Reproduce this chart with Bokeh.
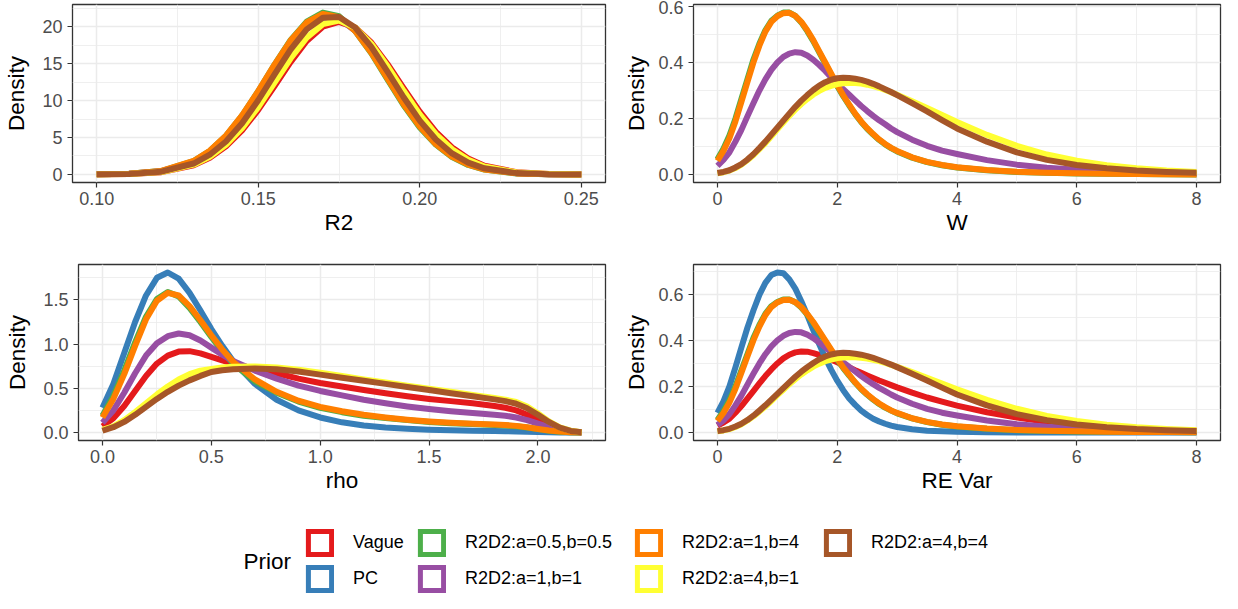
from bokeh.plotting import figure
from bokeh.layouts import column, row
from bokeh.models import FixedTicker, PrintfTickFormatter, Legend, LegendItem, Label, Range1d
from bokeh.embed import file_html
from bokeh.resources import INLINE

FONT = "Liberation Sans"
NAN = float("nan")

priors = ["Vague", "PC", "R2D2:a=0.5,b=0.5", "R2D2:a=1,b=1",
          "R2D2:a=1,b=4", "R2D2:a=4,b=1", "R2D2:a=4,b=4"]
colors = ["#E41A1C", "#377EB8", "#4DAF4A", "#984EA3",
          "#FF7F00", "#FFFF33", "#A65628"]

# ---------------- R2 panel ----------------
r2_x = [0.100, 0.110, 0.120, 0.130, 0.135, 0.140, 0.145, 0.150, 0.155, 0.160,
        0.165, 0.170, 0.175, 0.180, 0.185, 0.190, 0.195, 0.200, 0.205, 0.210,
        0.215, 0.220, 0.230, 0.240, 0.250]
r2_vague = [0.008, 0.06, 0.31, 1.25, 2.25, 3.80, 5.97, 8.75, 11.95, 15.23,
            18.10, 20.04, 20.70, 19.93, 17.89, 14.98, 11.70, 8.51, 5.77, 3.66,
            2.15, 1.18, 0.29, 0.05, 0.007]
r2_a05b05 = [0.012, 0.09, 0.46, 1.80, 3.18, 5.22, 7.96, 11.28, 14.86, 18.20,
             20.72, 21.95, 21.45, 19.45, 16.45, 12.90, 9.40, 6.38, 4.03, 2.36,
             1.28, 0.65, 0.13, 0.02, 0.002]
r2_a1b1 = [0.012, 0.08, 0.43, 1.67, 2.96, 4.87, 7.46, 10.63, 14.09, 17.38,
           19.94, 21.28, 21.12, 19.51, 16.76, 13.40, 9.96, 6.90, 4.43, 2.65,
           1.48, 0.77, 0.17, 0.03, 0.003]
r2_a1b4 = [0.013, 0.09, 0.47, 1.83, 3.21, 5.26, 8.00, 11.31, 14.86, 18.15,
           20.61, 21.76, 21.34, 19.47, 16.51, 13.01, 9.53, 6.49, 4.11, 2.42,
           1.32, 0.67, 0.14, 0.02, 0.002]
r2_a4b1 = [0.009, 0.06, 0.33, 1.32, 2.38, 4.00, 6.26, 9.13, 12.41, 15.72,
           18.54, 20.39, 20.88, 19.93, 17.72, 14.69, 11.34, 8.15, 5.46, 3.41,
           1.99, 1.07, 0.26, 0.05, 0.006]
r2_a4b4 = [0.009, 0.07, 0.37, 1.48, 2.67, 4.47, 6.95, 10.06, 13.53, 16.93,
           19.67, 21.25, 21.35, 19.93, 17.30, 13.95, 10.47, 7.30, 4.73, 2.85,
           1.59, 0.83, 0.18, 0.03, 0.003]

# ---------------- W and RE Var panels ----------------
w_x = [0.0, 0.1, 0.2, 0.3, 0.4, 0.5, 0.6, 0.7, 0.8, 0.9,
       1.0, 1.1, 1.2, 1.3, 1.4, 1.5, 1.6, 1.7, 1.8, 1.9,
       2.0, 2.1, 2.2, 2.3, 2.4, 2.5, 2.6, 2.7, 2.8, 2.9, 3.0,
       3.25, 3.5, 3.75, 4.0, 4.5, 5.0, 5.5, 6.0, 6.5, 7.0, 7.5, 8.0]
w_a05b05 = [0.055, 0.093, 0.14, 0.2, 0.27, 0.34, 0.41, 0.467, 0.515, 0.549,
            0.567, 0.578, 0.578, 0.566, 0.543, 0.512, 0.476, 0.436, 0.396, 0.356,
            0.316, 0.28, 0.247, 0.216, 0.188, 0.164, 0.143, 0.124, 0.108, 0.095, 0.083,
            0.061, 0.045, 0.034, 0.026, 0.016, 0.010, 0.007, 0.0048, 0.0034, 0.0024,
            0.0017, 0.0012]
w_a1b1 = [0.032, 0.053, 0.08, 0.118, 0.16, 0.208, 0.255, 0.30, 0.34, 0.374,
          0.40, 0.42, 0.432, 0.437, 0.435, 0.425, 0.41, 0.391, 0.37, 0.347,
          0.325, 0.305, 0.285, 0.265, 0.245, 0.227, 0.21, 0.194, 0.18, 0.165, 0.152,
          0.125, 0.103, 0.086, 0.074, 0.052, 0.036, 0.025, 0.018, 0.013, 0.009,
          0.0065, 0.0048]
w_a1b4 = [0.05, 0.085, 0.13, 0.19, 0.26, 0.33, 0.40, 0.46, 0.51, 0.545,
          0.565, 0.576, 0.577, 0.566, 0.545, 0.515, 0.48, 0.44, 0.40, 0.36,
          0.32, 0.283, 0.25, 0.218, 0.19, 0.166, 0.145, 0.126, 0.11, 0.096, 0.085,
          0.062, 0.046, 0.035, 0.027, 0.017, 0.011, 0.0075, 0.005, 0.0035, 0.0025,
          0.0018, 0.0013]
w_a4b1 = [0.005, 0.009, 0.015, 0.024, 0.036, 0.052, 0.07, 0.091, 0.113, 0.137,
          0.162, 0.186, 0.21, 0.232, 0.252, 0.27, 0.286, 0.299, 0.31, 0.317,
          0.323, 0.326, 0.327, 0.327, 0.325, 0.321, 0.316, 0.31, 0.302, 0.294, 0.285,
          0.262, 0.238, 0.213, 0.188, 0.142, 0.103, 0.072, 0.05, 0.034, 0.023,
          0.015, 0.01]
w_a4b4 = [0.006, 0.01, 0.016, 0.026, 0.038, 0.054, 0.073, 0.095, 0.118, 0.143,
          0.168, 0.193, 0.218, 0.242, 0.264, 0.284, 0.302, 0.318, 0.33, 0.339,
          0.344, 0.346, 0.345, 0.342, 0.338, 0.332, 0.324, 0.315, 0.305, 0.295, 0.284,
          0.255, 0.226, 0.195, 0.165, 0.118, 0.08, 0.053, 0.035, 0.023, 0.015,
          0.01, 0.007]
re_vague = [0.03, 0.043, 0.06, 0.086, 0.115, 0.147, 0.18, 0.213, 0.245, 0.274,
            0.30, 0.322, 0.338, 0.348, 0.352, 0.351, 0.345, 0.337, 0.327, 0.316,
            0.305, 0.293, 0.282, 0.27, 0.259, 0.248, 0.237, 0.226, 0.216, 0.206, 0.196,
            0.173, 0.152, 0.134, 0.117, 0.088, 0.065, 0.047, 0.034, 0.024, 0.017,
            0.012, 0.008]
re_pc = [0.085, 0.135, 0.20, 0.283, 0.37, 0.455, 0.53, 0.598, 0.65, 0.684,
         0.695, 0.692, 0.665, 0.625, 0.57, 0.51, 0.445, 0.383, 0.325, 0.272,
         0.225, 0.184, 0.148, 0.12, 0.095, 0.076, 0.06, 0.048, 0.038, 0.03, 0.024,
         0.014, 0.008, 0.005, 0.003, 0.0012, 0.0005, 0.0002, 0.0001, 0.0, 0.0,
         0.0, 0.0]

# ---------------- rho panel ----------------
rho_x = [0, 0.05, 0.1, 0.15, 0.2, 0.25, 0.3, 0.35, 0.4, 0.45, 0.5, 0.55, 0.6,
         0.7, 0.8, 0.9, 1.0, 1.1, 1.2, 1.3, 1.4, 1.5, 1.6, 1.7, 1.8, 1.85, 1.9,
         1.95, 2.0, 2.05, 2.1, 2.15, 2.2]
rho_vague = [0.07, 0.16, 0.30, 0.47, 0.64, 0.78, 0.87, 0.915, 0.92, 0.895,
             0.855, 0.815, 0.78, 0.72, 0.67, 0.61, 0.56, 0.52, 0.48, 0.445,
             0.41, 0.38, 0.355, 0.33, 0.30, 0.28, 0.25, 0.20, 0.14, 0.08,
             0.035, 0.01, 0.002]
rho_pc = [0.28, 0.55, 0.90, 1.25, 1.55, 1.75, 1.81, 1.74, 1.58, 1.38,
          1.17, 0.98, 0.81, 0.55, 0.37, 0.25, 0.17, 0.115, 0.08, 0.057,
          0.042, 0.032, 0.025, 0.02, 0.016, 0.014, 0.012, 0.009, 0.006, 0.003,
          0.001, 0.0, 0.0]
rho_a05b05 = [0.19, 0.41, 0.70, 1.02, 1.31, 1.51, 1.59, 1.54, 1.41, 1.25,
              1.08, 0.92, 0.78, 0.58, 0.45, 0.35, 0.28, 0.23, 0.19, 0.165,
              0.14, 0.12, 0.105, 0.095, 0.085, 0.08, 0.07, 0.056, 0.038, 0.02,
              0.009, 0.003, 0.001]
rho_a1b1 = [0.11, 0.25, 0.45, 0.67, 0.87, 1.01, 1.09, 1.12, 1.10, 1.04,
            0.96, 0.88, 0.81, 0.70, 0.61, 0.53, 0.47, 0.42, 0.37, 0.33,
            0.295, 0.265, 0.24, 0.22, 0.20, 0.19, 0.17, 0.14, 0.10, 0.06,
            0.03, 0.01, 0.002]
rho_a1b4 = [0.17, 0.38, 0.66, 0.98, 1.28, 1.49, 1.58, 1.55, 1.43, 1.27,
            1.10, 0.94, 0.80, 0.60, 0.46, 0.36, 0.29, 0.24, 0.20, 0.17,
            0.145, 0.125, 0.11, 0.10, 0.09, 0.085, 0.075, 0.06, 0.04, 0.022,
            0.01, 0.004, 0.001]
rho_a4b1 = [0.03, 0.07, 0.14, 0.23, 0.33, 0.43, 0.52, 0.60, 0.66, 0.70,
            0.72, 0.735, 0.745, 0.748, 0.735, 0.71, 0.675, 0.64, 0.60, 0.565,
            0.53, 0.495, 0.46, 0.425, 0.39, 0.372, 0.345, 0.295, 0.215, 0.125,
            0.058, 0.02, 0.004]
rho_a4b4 = [0.02, 0.06, 0.12, 0.20, 0.29, 0.38, 0.46, 0.53, 0.59, 0.64,
            0.685, 0.705, 0.715, 0.725, 0.715, 0.69, 0.655, 0.62, 0.585, 0.55,
            0.515, 0.48, 0.445, 0.41, 0.375, 0.355, 0.325, 0.275, 0.20, 0.12,
            0.055, 0.018, 0.004]

# tick positions
r2_xticks = [0.10, 0.15, 0.20, 0.25]
r2_xminor = [0.075, 0.125, 0.175, 0.225, 0.275]
r2_yticks = [0, 5, 10, 15, 20]
r2_yminor = [2.5, 7.5, 12.5, 17.5, 22.5]
w_xticks = [0, 2, 4, 6, 8]
w_xminor = [-1, 1, 3, 5, 7, 9]
w_yticks = [0.0, 0.2, 0.4, 0.6]
w_yminor = [-0.1, 0.1, 0.3, 0.5, 0.7]
rho_xticks = [0.0, 0.5, 1.0, 1.5, 2.0]
rho_xminor = [-0.25, 0.25, 0.75, 1.25, 1.75, 2.25]
rho_yticks = [0.0, 0.5, 1.0, 1.5]
rho_yminor = [-0.25, 0.25, 0.75, 1.25, 1.75]
re_yticks = [0.0, 0.2, 0.4, 0.6]
re_yminor = [-0.1, 0.1, 0.3, 0.5, 0.7]


def make_panel(xs, series, xlabel, xt, xm, xfmt, yt, ym, yfmt,
               width, height, bl, br, bt, bb, ystand):
    p = figure(width=width, height=height, output_backend="svg",
               toolbar_location=None, min_border_left=bl, min_border_right=br,
               min_border_top=bt, min_border_bottom=bb,
               background_fill_color="white", border_fill_color="white")
    for color, ys in series:
        p.line(xs, ys, line_color=color, line_width=6, line_join="round")
    xtick = FixedTicker(ticks=xt, minor_ticks=xm)
    ytick = FixedTicker(ticks=yt, minor_ticks=ym)
    p.xaxis.ticker = xtick
    p.yaxis.ticker = ytick
    p.xgrid.ticker = xtick
    p.ygrid.ticker = ytick
    p.xaxis.formatter = PrintfTickFormatter(format=xfmt)
    p.yaxis.formatter = PrintfTickFormatter(format=yfmt)
    p.xaxis.axis_label = xlabel
    p.yaxis.axis_label = "Density"
    for ax in (p.xaxis[0], p.yaxis[0]):
        ax.axis_line_color = None
        ax.major_tick_in = 0
        ax.major_tick_out = 5
        ax.major_tick_line_color = "#333333"
        ax.major_tick_line_width = 1.2
        ax.minor_tick_in = 0
        ax.minor_tick_out = 0
        ax.major_label_text_font = FONT
        ax.major_label_text_font_size = "18px"
        ax.major_label_text_color = "#4D4D4D"
        ax.axis_label_text_font = FONT
        ax.axis_label_text_font_size = "22.5px"
        ax.axis_label_text_font_style = "normal"
        ax.axis_label_text_color = "black"
    p.xaxis.major_label_standoff = 4
    p.xaxis.axis_label_standoff = 2
    p.yaxis.major_label_standoff = 5
    p.yaxis.axis_label_standoff = ystand
    for g in (p.xgrid[0], p.ygrid[0]):
        g.grid_line_color = "#EBEBEB"
        g.grid_line_width = 1.5
        g.minor_grid_line_color = "#EBEBEB"
        g.minor_grid_line_width = 0.8
    p.outline_line_color = "#333333"
    p.outline_line_width = 1.3
    return p


p1 = make_panel(r2_x, [(colors[0], r2_vague), (colors[2], r2_a05b05),
                       (colors[3], r2_a1b1), (colors[4], r2_a1b4),
                       (colors[5], r2_a4b1), (colors[6], r2_a4b4)],
                "R2", r2_xticks, r2_xminor, "%.2f", r2_yticks, r2_yminor, "%d",
                612, 258, 72, 7, 4, 76, 10)
p2 = make_panel(w_x, [(colors[2], w_a05b05), (colors[3], w_a1b1),
                      (colors[4], w_a1b4), (colors[5], w_a4b1),
                      (colors[6], w_a4b4)],
                "W", w_xticks, w_xminor, "%d", w_yticks, w_yminor, "%.1f",
                610, 258, 81, 2, 4, 76, 6)
p3 = make_panel(rho_x, [(colors[0], rho_vague), (colors[1], rho_pc),
                        (colors[2], rho_a05b05), (colors[3], rho_a1b1),
                        (colors[4], rho_a1b4), (colors[5], rho_a4b1),
                        (colors[6], rho_a4b4)],
                "rho", rho_xticks, rho_xminor, "%.1f", rho_yticks, rho_yminor, "%.1f",
                612, 258, 78, 7, 6, 76, 10)
p4 = make_panel(w_x, [(colors[0], re_vague), (colors[1], re_pc),
                      (colors[2], w_a05b05), (colors[3], w_a1b1),
                      (colors[4], w_a1b4), (colors[5], w_a4b1),
                      (colors[6], w_a4b4)],
                "RE Var", w_xticks, w_xminor, "%d", re_yticks, re_yminor, "%.1f",
                610, 258, 81, 2, 6, 76, 6)

# ---------------- legend strip ----------------
pl = figure(width=1222, height=77, output_backend="svg", toolbar_location=None,
            x_range=Range1d(0, 1), y_range=Range1d(0, 1),
            x_axis_location=None, y_axis_location=None,
            min_border=0, outline_line_color=None)
pl.grid.visible = False
rends = []
for c in colors:
    rends.append(pl.quad(left=[NAN], right=[NAN], top=[NAN], bottom=[NAN],
                         fill_color="white", line_color=c, line_width=5,
                         line_join="miter"))

groups = [([0, 1], 305, 0), ([2, 3], 417, 0), ([4, 5], 634, 0), ([6], 823, 36)]
for idx, lx, ly in groups:
    leg = Legend(items=[LegendItem(label=priors[i], renderers=[rends[i]]) for i in idx],
                 location=(lx, ly), orientation="vertical",
                 glyph_width=29, glyph_height=29, spacing=7, padding=0, margin=0,
                 label_standoff=19, label_text_font=FONT, label_text_font_size="18px",
                 label_text_color="black", border_line_color=None,
                 background_fill_alpha=0)
    pl.add_layout(leg)

pl.add_layout(Label(x=243, y=32, x_units="screen", y_units="screen", text="Prior",
                    text_font=FONT, text_font_size="22.5px", text_baseline="middle",
                    text_color="black"))

layout = column(row(p1, p2), row(p3, p4), pl)
open("out.html", "w").write(file_html(layout, INLINE))
